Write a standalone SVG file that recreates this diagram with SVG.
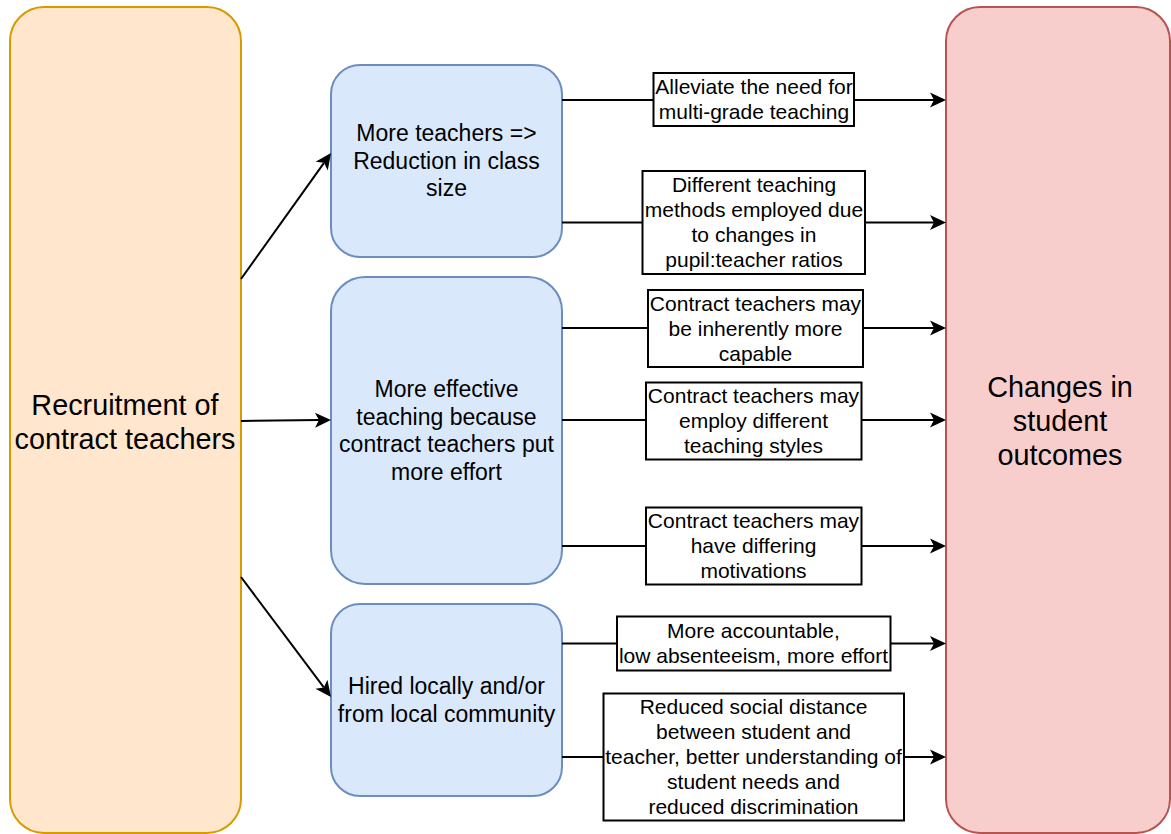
<svg xmlns="http://www.w3.org/2000/svg" width="1171" height="834" viewBox="0 0 1171 834">
<style>
text{font-family:"Liberation Sans",Arial,sans-serif;fill:#000;text-anchor:middle}
.big{font-size:28.8px}
.mid{font-size:23px}
.sm{font-size:21px}
.orange{fill:#ffe6cc;stroke:#d79b00;stroke-width:2}
.blue{fill:#dae8fc;stroke:#6c8ebf;stroke-width:2}
.red{fill:#f8cecc;stroke:#b85450;stroke-width:2}
.lbl{fill:#fff;stroke:#000;stroke-width:2}
.edge{fill:none;stroke:#000;stroke-width:2}
</style>
<defs>
<marker id="arr" markerUnits="userSpaceOnUse" markerWidth="16" markerHeight="15" refX="4" refY="7.5" orient="auto" overflow="visible">
<path d="M0,0 L16,7.5 L0,15 L4,7.5 z" fill="#000"/>
</marker>
</defs>
<g id="recruitment">
<rect class="orange" x="10" y="7" width="231" height="826" rx="34" ry="34"/>
<text class="big" x="125" y="415">Recruitment of</text>
<text class="big" x="125" y="449">contract teachers</text>
</g>
<g id="outcomes">
<rect class="red" x="946" y="7" width="224" height="826" rx="34" ry="34"/>
<text class="big" x="1060" y="397">Changes in</text>
<text class="big" x="1060" y="431">student</text>
<text class="big" x="1060" y="465">outcomes</text>
</g>
<g id="class-size">
<rect class="blue" x="331" y="65" width="231" height="192" rx="29" ry="29"/>
<text class="mid" x="446.5" y="141">More teachers =&gt;</text>
<text class="mid" x="446.5" y="168.5">Reduction in class</text>
<text class="mid" x="446.5" y="196">size</text>
</g>
<g id="effective-teaching">
<rect class="blue" x="331" y="277" width="231" height="307" rx="34" ry="34"/>
<text class="mid" x="446.5" y="397">More effective</text>
<text class="mid" x="446.5" y="424.5">teaching because</text>
<text class="mid" x="446.5" y="452">contract teachers put</text>
<text class="mid" x="446.5" y="479.5">more effort</text>
</g>
<g id="hired-locally">
<rect class="blue" x="331" y="604" width="231" height="192" rx="29" ry="29"/>
<text class="mid" x="446.5" y="694">Hired locally and/or</text>
<text class="mid" x="446.5" y="722">from local community</text>
</g>
<g id="connectors">
<path class="edge" d="M241,279 L324,162.8" marker-end="url(#arr)"/>
<path class="edge" d="M241,421 L319,420.1" marker-end="url(#arr)"/>
<path class="edge" d="M241,577 L323.8,687.4" marker-end="url(#arr)"/>
<path class="edge" d="M562,100 H934" marker-end="url(#arr)"/>
<path class="edge" d="M562,222.5 H934" marker-end="url(#arr)"/>
<path class="edge" d="M562,328 H934" marker-end="url(#arr)"/>
<path class="edge" d="M562,420 H934" marker-end="url(#arr)"/>
<path class="edge" d="M562,546 H934" marker-end="url(#arr)"/>
<path class="edge" d="M562,643.5 H934" marker-end="url(#arr)"/>
<path class="edge" d="M562,757 H934" marker-end="url(#arr)"/>
</g>
<g id="label-multigrade">
<rect class="lbl" x="653.5" y="73" width="200.5" height="53"/>
<text class="sm" x="754" y="94">Alleviate the need for</text>
<text class="sm" x="754" y="119">multi-grade teaching</text>
</g>
<g id="label-methods">
<rect class="lbl" x="642.5" y="171" width="222.5" height="103"/>
<text class="sm" x="754" y="192">Different teaching</text>
<text class="sm" x="754" y="217">methods employed due</text>
<text class="sm" x="754" y="242">to changes in</text>
<text class="sm" x="754" y="267">pupil:teacher ratios</text>
</g>
<g id="label-capable">
<rect class="lbl" x="648" y="290" width="215" height="77"/>
<text class="sm" x="755.5" y="311">Contract teachers may</text>
<text class="sm" x="755.5" y="336">be inherently more</text>
<text class="sm" x="755.5" y="361">capable</text>
</g>
<g id="label-styles">
<rect class="lbl" x="646" y="382.5" width="215.5" height="77"/>
<text class="sm" x="753.5" y="403">Contract teachers may</text>
<text class="sm" x="753.5" y="428">employ different</text>
<text class="sm" x="753.5" y="453">teaching styles</text>
</g>
<g id="label-motivations">
<rect class="lbl" x="646" y="507.5" width="215.5" height="77"/>
<text class="sm" x="753.5" y="528">Contract teachers may</text>
<text class="sm" x="753.5" y="553">have differing</text>
<text class="sm" x="753.5" y="578">motivations</text>
</g>
<g id="label-accountable">
<rect class="lbl" x="617" y="616.5" width="273.5" height="54"/>
<text class="sm" x="753.5" y="638">More accountable,</text>
<text class="sm" x="753.5" y="663">low absenteeism, more effort</text>
</g>
<g id="label-social">
<rect class="lbl" x="603.5" y="693.5" width="300.5" height="127"/>
<text class="sm" x="753.5" y="714">Reduced social distance</text>
<text class="sm" x="753.5" y="739">between student and</text>
<text class="sm" x="753.5" y="764">teacher, better understanding of</text>
<text class="sm" x="753.5" y="789">student needs and</text>
<text class="sm" x="753.5" y="814">reduced discrimination</text>
</g>
</svg>
